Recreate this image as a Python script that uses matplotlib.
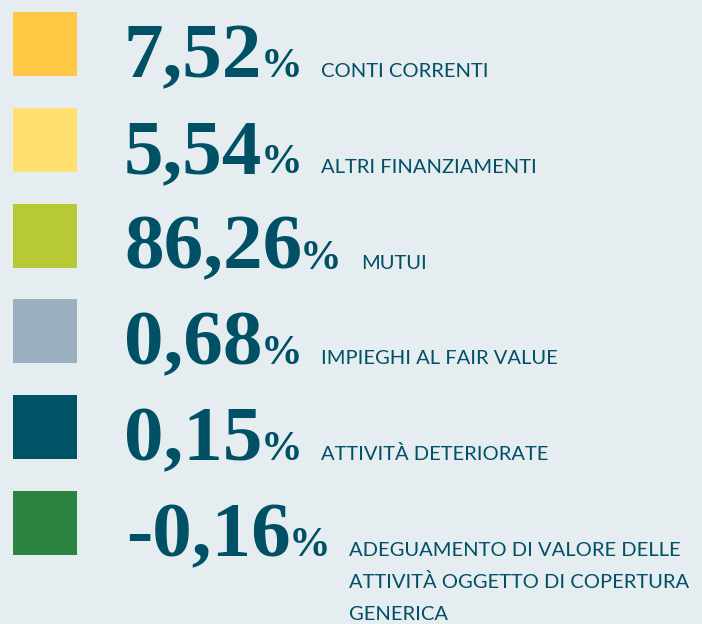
import matplotlib
matplotlib.use("Agg")
import matplotlib.pyplot as plt
from matplotlib.patches import Rectangle

values = [7.52, 5.54, 86.26, 0.68, 0.15, -0.16]
labels = ["CONTI CORRENTI", "ALTRI FINANZIAMENTI", "MUTUI",
          "IMPIEGHI AL FAIR VALUE", "ATTIVITÀ DETERIORATE",
          "ADEGUAMENTO DI VALORE DELLE\nATTIVITÀ OGGETTO DI COPERTURA\nGENERICA"]
colors = ["#FFC845", "#FFE070", "#B7CA34", "#9AAFC0", "#005266", "#2A8440"]

BG = "#E5EDF0"
TXT = "#005066"
W, H = 702, 624
fig = plt.figure(figsize=(W / 100, H / 100), dpi=100, facecolor=BG)
ax = fig.add_axes([0, 0, 1, 1])
ax.set_xlim(0, W)
ax.set_ylim(H, 0)
ax.axis("off")
ax.set_facecolor(BG)

renderer = fig.canvas.get_renderer()
inv = ax.transData.inverted()

row_h = 95.8
for i, (v, lab, c) in enumerate(zip(values, labels, colors)):
    top = 12 + i * row_h
    ax.add_patch(Rectangle((13, top), 64, 64, facecolor=c, edgecolor="none"))
    base = top + 65
    s = f"{v:.2f}".replace(".", ",")
    x0 = 124 if v >= 0 else 126
    t = ax.text(x0, base, s, fontsize=57, fontweight="bold",
                family="Liberation Serif", color=TXT, va="baseline", ha="left")
    bb = t.get_window_extent(renderer)
    xe = inv.transform((bb.x1, bb.y0))[0]
    p = ax.text(xe - 2, base, "%", fontsize=30, fontweight="bold",
                family="Liberation Serif", color=TXT, va="baseline", ha="left")
    bb2 = p.get_window_extent(renderer)
    xe2 = inv.transform((bb2.x1, bb2.y0))[0]
    lines = lab.split("\n")
    for j, ln in enumerate(lines):
        ax.text(xe2 + 19, base + j * 32, ln, fontsize=14.5, family="Lato",
                color=TXT, va="baseline", ha="left")

fig.savefig("out.png", dpi=100, facecolor=BG)
